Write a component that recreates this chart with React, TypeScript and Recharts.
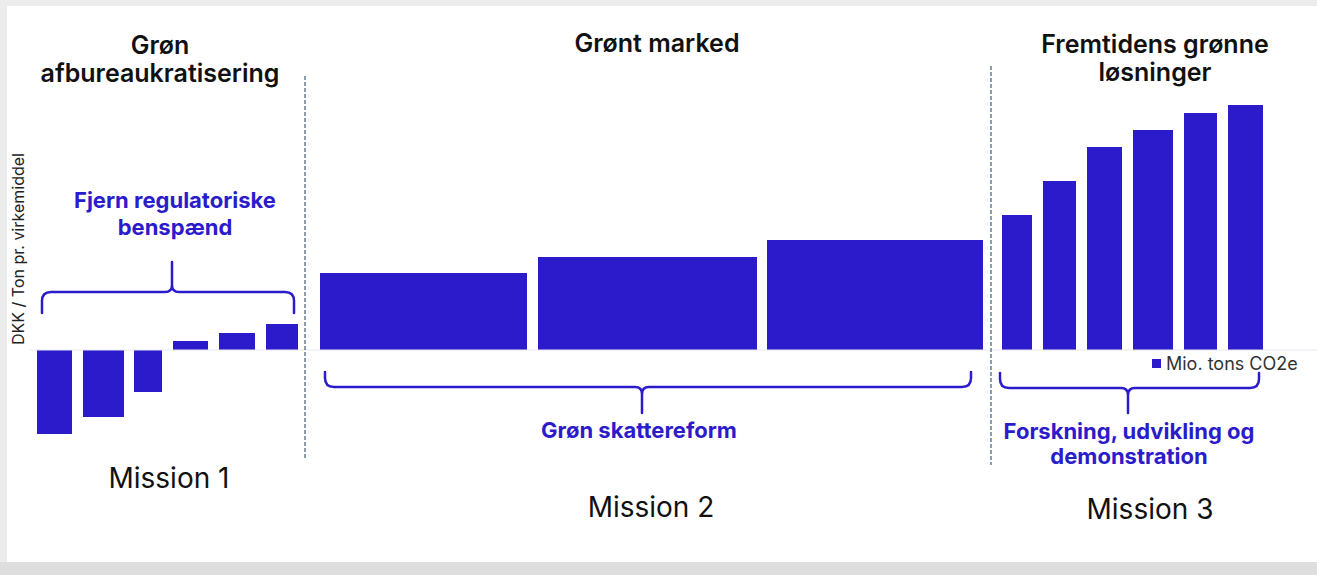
import React from 'react';
import { ComposedChart, XAxis, YAxis, ReferenceArea, ReferenceLine } from 'recharts';

// Cumulative abatement axis (Mio. tons CO2e) – start/end of each measure
const barStart = [7, 53, 104, 143, 189, 236, 290, 508, 737, 972, 1013, 1057, 1103, 1154, 1198];
const barEnd = [42, 94, 132, 178, 225, 268, 497, 727, 953, 1002, 1046, 1092, 1143, 1187, 1233];
// DKK / ton per measure
const barValue = [-84, -67, -42, 9, 17, 26, 77, 93, 110, 135, 169, 203, 220, 237, 245];

// Mission dividers
const dividerX = [275, 961];
const dividerTop = [274, 284];
const dividerBottom = [-108, -115];

// Braces grouping measures
const braceStart = [12, 295, 970];
const braceEnd = [264, 941, 1229];
const braceCenter = [142, 612, 1098];
const braceEndY = [37, -22, -23];
const braceMidY = [58, -37, -38];
const braceTipY = [88, -63, -63];

const xDomain = [0, 1287];
const yDomain = [-150, 330];

const BLUE = '#2b1bcb';
const FONT = 'Inter, "Noto Sans", sans-serif';

const data = barStart.map((s, i) => ({ x: (s + barEnd[i]) / 2, value: barValue[i] }));

function makeBrace(i: number) {
  const endY = braceEndY[i];
  const midY = braceMidY[i];
  const tipY = braceTipY[i];
  const cFrac = (braceCenter[i] - braceStart[i]) / (braceEnd[i] - braceStart[i]);
  return (props: any) => {
    const { x, y, width, height } = props;
    const top = y;
    const bottom = y + height;
    const topVal = Math.max(endY, tipY);
    const botVal = Math.min(endY, tipY);
    const toPx = (v: number) => top + ((topVal - v) / (topVal - botVal)) * (bottom - top);
    const yE = toPx(endY);
    const yH = toPx(midY);
    const yT = toPx(tipY);
    const xL = x;
    const xR = x + width;
    const xc = x + width * cFrac;
    const s = yE > yH ? 1 : -1;
    const r = Math.min(9, Math.abs(yE - yH));
    const rt = Math.min(7, Math.abs(yT - yH));
    const d = [
      `M ${xL} ${yE}`,
      `L ${xL} ${yH + s * r}`,
      `Q ${xL} ${yH} ${xL + r} ${yH}`,
      `L ${xc - rt} ${yH}`,
      `Q ${xc} ${yH} ${xc} ${yH - s * rt}`,
      `L ${xc} ${yT}`,
      `M ${xc} ${yH - s * rt}`,
      `Q ${xc} ${yH} ${xc + rt} ${yH}`,
      `L ${xR - r} ${yH}`,
      `Q ${xR} ${yH} ${xR} ${yH + s * r}`,
      `L ${xR} ${yE}`,
    ].join(' ');
    return <path d={d} fill="none" stroke={BLUE} strokeWidth={2.5} strokeLinecap="round" />;
  };
}

const abs = (style: React.CSSProperties): React.CSSProperties => ({ position: 'absolute', ...style });

export default function App() {
  return (
    <div style={abs({ left: 0, top: 0, width: 1317, height: 575, background: '#dedede', overflow: 'hidden' })}>
      <div style={abs({ left: 0, top: 0, width: 1317, height: 562, background: '#ececec' })} />
      <div style={abs({ left: 7, top: 6, width: 1310, height: 556, background: '#ffffff' })} />
      <div style={abs({ left: 0, top: 0 })}>
        <ComposedChart
          width={1317}
          height={575}
          data={data}
          margin={{ top: 20, right: 0, bottom: 75, left: 0 }}
        >
          <XAxis type="number" dataKey="x" domain={xDomain} hide allowDataOverflow />
          <YAxis type="number" domain={yDomain} width={30} tick={false} axisLine={false} tickLine={false} allowDataOverflow />
          <ReferenceLine y={0} stroke="#e6e6f2" strokeWidth={1} />
          {barStart.map((s, i) => (
            <ReferenceArea
              key={'bar' + i}
              x1={s}
              x2={barEnd[i]}
              y1={0}
              y2={barValue[i]}
              fill={BLUE}
              fillOpacity={1}
              stroke="none"
            />
          ))}
          {dividerX.map((dx, i) => (
            <ReferenceLine
              key={'div' + i}
              segment={[{ x: dx, y: dividerTop[i] }, { x: dx, y: dividerBottom[i] }]}
              stroke="#6a7e90"
              strokeWidth={1.5}
              strokeDasharray="4 2"
              ifOverflow="visible"
            />
          ))}
          {braceStart.map((s, i) => (
            <ReferenceArea
              key={'brace' + i}
              x1={s}
              x2={braceEnd[i]}
              y1={Math.min(braceEndY[i], braceTipY[i])}
              y2={Math.max(braceEndY[i], braceTipY[i])}
              shape={makeBrace(i)}
              ifOverflow="visible"
            />
          ))}
        </ComposedChart>
      </div>

      {/* Titles */}
      <div style={abs({ left: 0, top: 31, width: 320, textAlign: 'center', fontFamily: FONT, fontWeight: 600, fontSize: 25, lineHeight: '28px', color: '#111' })}>
        Grøn<br />afbureaukratisering
      </div>
      <div style={abs({ left: 457, top: 29, width: 400, textAlign: 'center', fontFamily: FONT, fontWeight: 600, fontSize: 25, lineHeight: '28px', color: '#111' })}>
        Grønt marked
      </div>
      <div style={abs({ left: 1005, top: 30, width: 300, textAlign: 'center', fontFamily: FONT, fontWeight: 600, fontSize: 25, lineHeight: '28px', color: '#111' })}>
        Fremtidens grønne<br />løsninger
      </div>

      {/* Group annotations */}
      <div style={abs({ left: 25, top: 187, width: 300, textAlign: 'center', fontFamily: FONT, fontWeight: 700, fontSize: 22, lineHeight: '27px', color: BLUE })}>
        Fjern regulatoriske<br />benspænd
      </div>
      <div style={abs({ left: 489, top: 417, width: 300, textAlign: 'center', fontFamily: FONT, fontWeight: 700, fontSize: 22, lineHeight: '27px', color: BLUE })}>
        Grøn skattereform
      </div>
      <div style={abs({ left: 979, top: 419, width: 300, textAlign: 'center', fontFamily: FONT, fontWeight: 700, fontSize: 22, lineHeight: '25px', color: BLUE })}>
        Forskning, udvikling og<br />demonstration
      </div>

      {/* Mission labels */}
      <div style={abs({ left: 69, top: 463, width: 200, textAlign: 'center', fontFamily: FONT, fontWeight: 400, fontSize: 28, lineHeight: '30px', color: '#111' })}>
        Mission 1
      </div>
      <div style={abs({ left: 551, top: 492, width: 200, textAlign: 'center', fontFamily: FONT, fontWeight: 400, fontSize: 28, lineHeight: '30px', color: '#111' })}>
        Mission 2
      </div>
      <div style={abs({ left: 1050, top: 494, width: 200, textAlign: 'center', fontFamily: FONT, fontWeight: 400, fontSize: 28, lineHeight: '30px', color: '#111' })}>
        Mission 3
      </div>

      {/* Legend */}
      <div style={abs({ left: 1152, top: 359, width: 9, height: 9, background: BLUE })} />
      <div style={abs({ left: 1166, top: 353, fontFamily: FONT, fontSize: 18, lineHeight: '22px', color: '#333', whiteSpace: 'nowrap' })}>
        Mio. tons CO2e
      </div>

      {/* Y-axis label */}
      <div style={abs({ left: 18 - 110, top: 249 - 10, width: 220, height: 20, textAlign: 'center', fontFamily: FONT, fontSize: 16, lineHeight: '20px', color: '#222', transform: 'rotate(-90deg)', whiteSpace: 'nowrap' })}>
        DKK / Ton pr. virkemiddel
      </div>
    </div>
  );
}
